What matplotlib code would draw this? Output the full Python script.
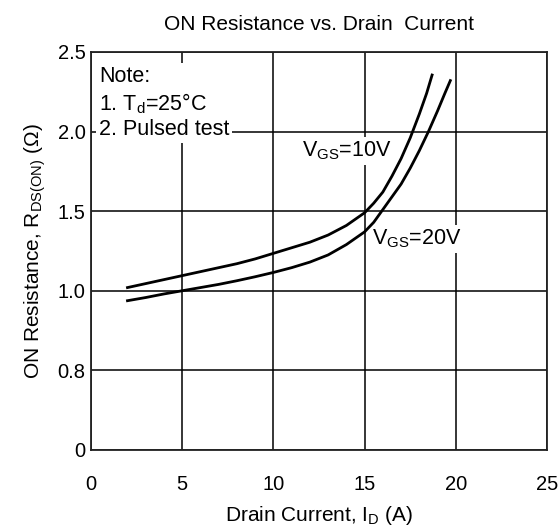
import matplotlib
matplotlib.use("Agg")
import matplotlib.pyplot as plt
import numpy as np

plt.rcParams["font.family"] = ["Liberation Sans", "DejaVu Sans"]
plt.rcParams["mathtext.fontset"] = "custom"
plt.rcParams["mathtext.rm"] = "Liberation Sans"
plt.rcParams["mathtext.it"] = "Liberation Sans:italic"

id_10v = [2, 3, 4, 5, 6, 7, 8, 9, 10, 11, 12, 13, 14, 15, 15.5, 16, 16.5, 17, 17.5, 18, 18.4, 18.7]
r_10v = [1.02, 1.045, 1.07, 1.095, 1.12, 1.145, 1.17, 1.2, 1.235, 1.27, 1.305, 1.35, 1.41, 1.49,
         1.55, 1.62, 1.72, 1.83, 1.96, 2.11, 2.24, 2.355]

id_20v = [2, 3, 4, 5, 6, 7, 8, 9, 10, 11, 12, 13, 14, 15, 15.5, 16, 16.5, 17, 17.5, 18, 18.5, 19, 19.4, 19.7]
r_20v = [0.975, 0.983, 0.992, 1.0, 1.02, 1.04, 1.063, 1.088, 1.115, 1.145, 1.18, 1.225, 1.29, 1.37,
         1.43, 1.51, 1.59, 1.67, 1.77, 1.88, 2.0, 2.13, 2.24, 2.32]

x_ticks = [0, 5, 10, 15, 20, 25]
y_ticks = [0, 0.8, 1.0, 1.5, 2.0, 2.5]
y_tick_labels = ["0", "0.8", "1.0", "1.5", "2.0", "2.5"]

# the y axis of the datasheet is spaced evenly per label, not linearly
y_pos = np.arange(len(y_ticks))


def fwd(v):
    return np.interp(v, y_ticks, y_pos)


def inv(p):
    return np.interp(p, y_pos, y_ticks)


fig = plt.figure(figsize=(5.6, 5.3), dpi=100)
ax = fig.add_axes([0.1625, 0.151, 0.8143, 0.751])
ax.set_yscale("function", functions=(fwd, inv))

ax.plot(id_10v, r_10v, color="black", linewidth=2.0, zorder=3)
ax.plot(id_20v, r_20v, color="black", linewidth=2.0, zorder=3)

ax.set_xlim(0, 25)
ax.set_ylim(0, 2.5)
ax.set_xticks(x_ticks)
ax.set_yticks(y_ticks)
ax.set_yticklabels(y_tick_labels)
ax.tick_params(length=0, labelsize=14.5)
ax.tick_params(axis="x", pad=18)
ax.tick_params(axis="y", pad=4)
ax.grid(True, color="black", linewidth=1.1)
ax.set_axisbelow(True)
for s in ax.spines.values():
    s.set_linewidth(1.3)
    s.set_color("#222222")

ax.set_title("ON Resistance vs. Drain  Current", fontsize=15, pad=16)
ax.set_xlabel(r"Drain Current, I$_\mathrm{D}$ (A)", fontsize=15, labelpad=7)
ax.set_ylabel(r"ON Resistance, R$_\mathrm{DS(ON)}$ ($\Omega$)", fontsize=15, labelpad=7)

box = dict(facecolor="white", edgecolor="none", pad=2)
ax.text(0.45, 2.41, "Note:\n1. T$_\mathrm{d}$=25°C\n2. Pulsed test", fontsize=15.5, va="top",
        ha="left", linespacing=1.2, bbox=box, zorder=2)
ax.text(11.55, 1.88, r"V$_\mathrm{GS}$=10V", fontsize=15.5, va="center", ha="left", bbox=box, zorder=2)
ax.text(15.4, 1.325, r"V$_\mathrm{GS}$=20V", fontsize=15.5, va="center", ha="left", bbox=box, zorder=2)

fig.savefig("out.png", dpi=100)
